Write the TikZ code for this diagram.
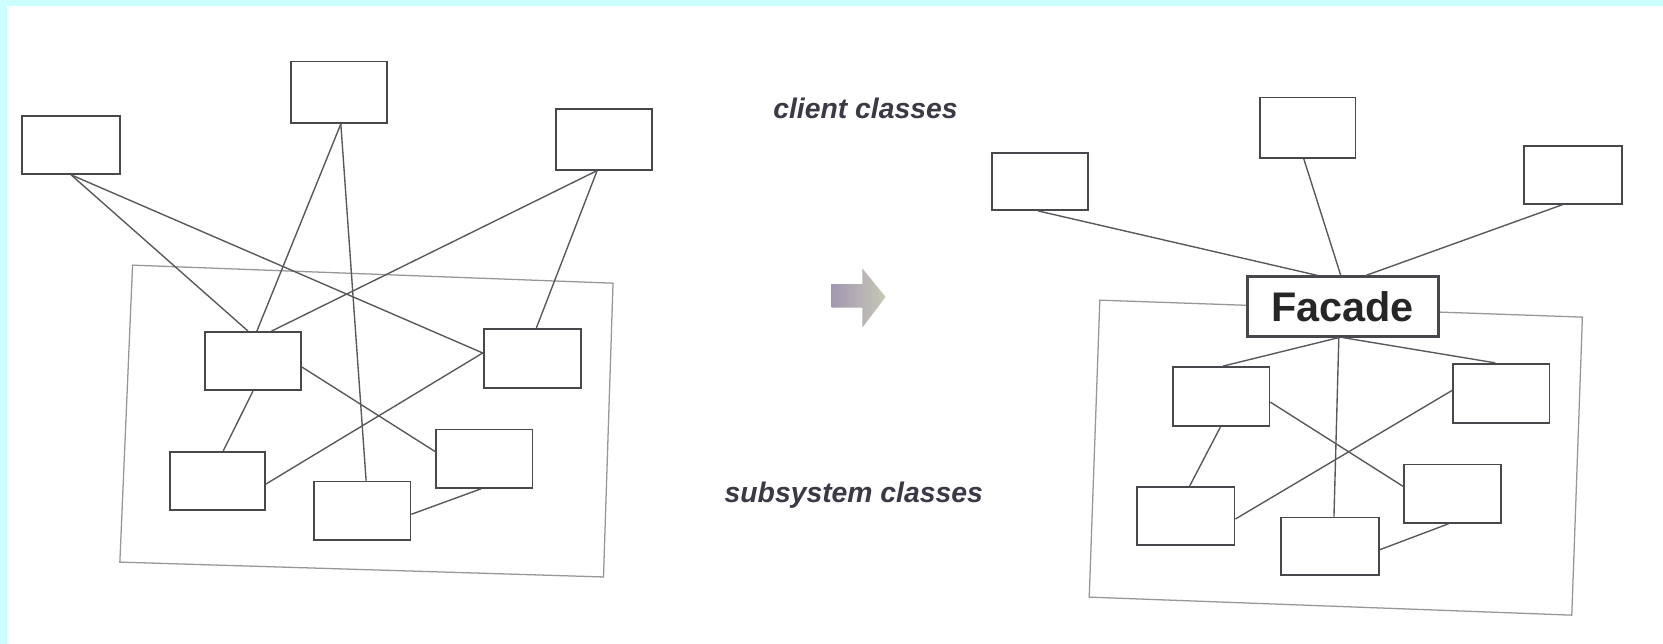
\documentclass[tikz,border=0pt]{standalone}
\usepackage{fontspec}
\setmainfont{Liberation Sans}
\usetikzlibrary{calc}
\definecolor{cyanband}{RGB}{204,255,255}
\definecolor{boxline}{RGB}{72,72,76}
\definecolor{conline}{RGB}{88,88,92}
\definecolor{frameline}{RGB}{150,150,155}
\definecolor{labeltext}{RGB}{58,58,70}
\definecolor{arrowleft}{RGB}{160,152,178}
\definecolor{arrowright}{RGB}{200,200,182}
\tikzset{
  cls/.style={draw=boxline, line width=1.7pt, fill=white, inner sep=0pt,
    minimum width=91pt, minimum height=55pt},
  facadebox/.style={draw=boxline, line width=2.6pt, fill=white, inner sep=0pt,
    minimum width=180pt, minimum height=56pt,
    font=\fontsize{39}{39}\selectfont\bfseries, text=black!85},
  conn/.style={draw=conline, line width=1.3pt},
  subframe/.style={draw=frameline, line width=1.2pt},
  lbl/.style={inner sep=0pt, anchor=base, text=labeltext,
    font=\fontsize{26.7}{26.7}\selectfont\bfseries\itshape},
}
\begin{document}
\begin{tikzpicture}[x=1pt,y=-1pt]
\useasboundingbox (0,0) rectangle (1568,607);
\fill[white] (0,0) rectangle (1568,607);
\fill[cyanband] (0,0) rectangle (1568,5.6);
\fill[cyanband] (0,0) rectangle (6.6,607);

% subsystem frames
\draw[subframe] (125,250) -- (578,267) -- (569,544) -- (113,530) -- cycle;
\draw[subframe] (1037,283) -- (1492,299) -- (1482,580) -- (1027,563) -- cycle;

% left diagram nodes
\node[cls, minimum width=92pt] (A) at (67,136.5) {};
\node[cls, minimum height=58pt] (B) at (319.5,87) {};
\node[cls, minimum height=57pt] (C) at (569.5,131.5) {};
\node[cls] (D) at (238.5,340.5) {};
\node[cls, minimum width=92pt, minimum height=56pt] (E) at (502,338) {};
\node[cls, minimum width=90pt] (F) at (205,453.5) {};
\node[cls] (G) at (341.5,481.5) {};
\node[cls] (H) at (456.5,432.5) {};

% right diagram nodes
\node[cls, minimum height=54pt] (R1) at (980.5,171) {};
\node[cls, minimum width=90pt, minimum height=57pt] (R2) at (1233,120.5) {};
\node[cls, minimum width=92pt, minimum height=54pt] (R3) at (1483,165) {};
\node[facadebox] (Fa) at (1266,289) {Facade};
\node[cls, minimum height=56pt] (S1) at (1151.5,374) {};
\node[cls, minimum height=56pt] (S2) at (1415.5,371) {};
\node[cls, minimum width=92pt] (S3) at (1118,486.5) {};
\node[cls, minimum width=92pt, minimum height=54pt] (S4) at (1254,515) {};
\node[cls] (S5) at (1369.5,465.5) {};

% left connectors
\draw[conn] (A.south) -- ($(D.north west)!0.45!(D.north east)$);
\draw[conn] (A.south) -- ($(E.north west)!0.41!(E.south west)$);
\draw[conn] ($(B.south west)!0.52!(B.south east)$) -- ($(D.north west)!0.54!(D.north east)$);
\draw[conn] ($(B.south west)!0.52!(B.south east)$) -- ($(G.north west)!0.54!(G.north east)$);
\draw[conn] ($(C.south west)!0.43!(C.south east)$) -- ($(D.north west)!0.69!(D.north east)$);
\draw[conn] ($(C.south west)!0.43!(C.south east)$) -- ($(E.north west)!0.54!(E.north east)$);
\draw[conn] ($(D.north east)!0.6!(D.south east)$) -- ($(H.north west)!0.38!(H.south west)$);
\draw[conn] (D.south) -- ($(F.north west)!0.56!(F.north east)$);
\draw[conn] ($(F.north east)!0.55!(F.south east)$) -- ($(E.north west)!0.41!(E.south west)$);
\draw[conn] ($(H.south west)!0.47!(H.south east)$) -- ($(G.north east)!0.56!(G.south east)$);

% right connectors
\draw[conn] ($(R1.south west)!0.48!(R1.south east)$) -- ($(Fa.north west)!0.37!(Fa.north east)$);
\draw[conn] ($(R2.south west)!0.46!(R2.south east)$) -- ($(Fa.north west)!0.49!(Fa.north east)$);
\draw[conn] ($(R3.south west)!0.40!(R3.south east)$) -- ($(Fa.north west)!0.62!(Fa.north east)$);
\draw[conn] ($(Fa.south west)!0.48!(Fa.south east)$) -- ($(S1.north west)!0.52!(S1.north east)$);
\draw[conn] ($(Fa.south west)!0.48!(Fa.south east)$) -- ($(S4.north west)!0.54!(S4.north east)$);
\draw[conn] ($(Fa.south west)!0.50!(Fa.south east)$) -- ($(S2.north west)!0.44!(S2.north east)$);
\draw[conn] ($(S1.north east)!0.59!(S1.south east)$) -- ($(S5.north west)!0.38!(S5.south west)$);
\draw[conn] ($(S1.south west)!0.49!(S1.south east)$) -- ($(S3.north west)!0.54!(S3.north east)$);
\draw[conn] ($(S3.north east)!0.55!(S3.south east)$) -- ($(S2.north west)!0.45!(S2.south west)$);
\draw[conn] ($(S5.south west)!0.46!(S5.south east)$) -- ($(S4.north east)!0.56!(S4.south east)$);

% labels
\node[lbl] (client) at (816,112) {client classes};
\node[lbl] (subsys) at (805,474) {subsystem classes};

% transition arrow
\shade[left color=arrowleft, right color=arrowright]
  (784,268) -- (813,268) -- (813,253) -- (835,280) -- (813,309) -- (813,290) -- (784,290) -- cycle;
\end{tikzpicture}
\end{document}
